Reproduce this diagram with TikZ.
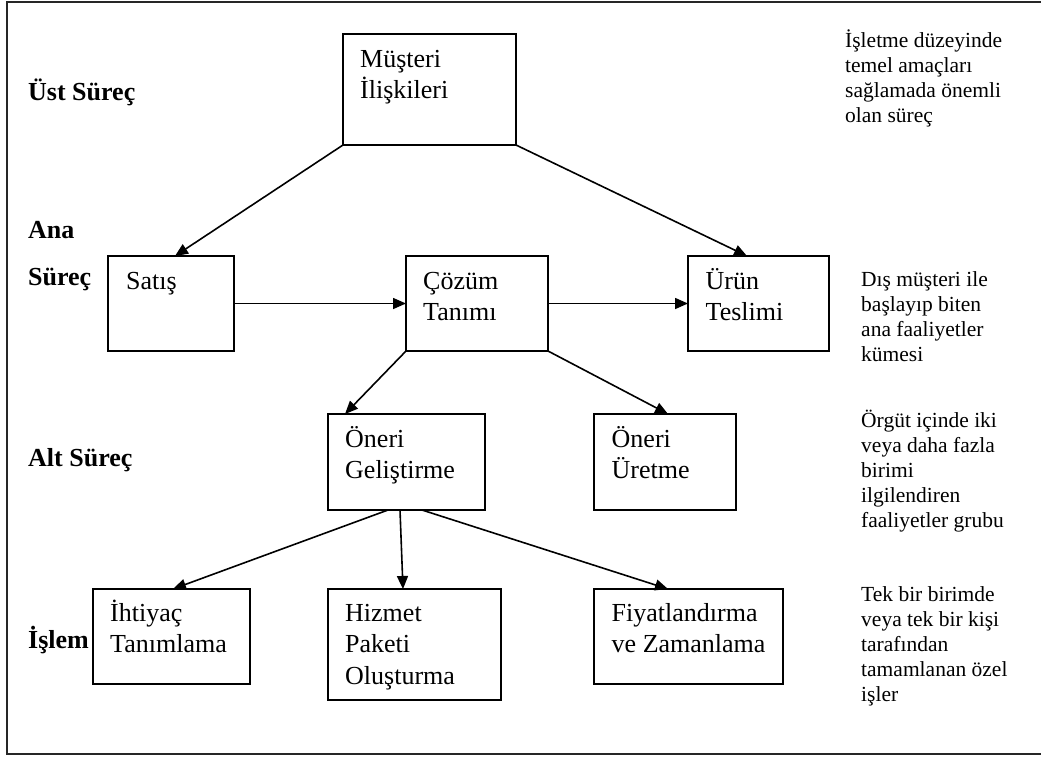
\documentclass[tikz,border=0pt]{standalone}
\usepackage{fontspec}
\setmainfont{Liberation Serif}
\usetikzlibrary{arrows.meta}

% stacked lines whose reference point is the baseline of the first line
\newcommand{\toplines}[1]{\begin{tabular}[t]{@{}l@{}}#1\end{tabular}}

\tikzset{
  procbox/.style={draw, line width=1.6pt, rectangle, anchor=north west,
                  inner sep=0pt, outer sep=0pt},
  boxtext/.style={anchor=base west, inner sep=0pt,
                  font=\fontsize{26}{31.5}\selectfont},
  leveltext/.style={anchor=base west, inner sep=0pt,
                  font=\fontsize{26}{31}\selectfont\bfseries},
  notetext/.style={anchor=base west, inner sep=0pt,
                  font=\fontsize{21.5}{25}\selectfont},
  link/.style={line width=1.6pt, -{Triangle[length=13pt,width=11pt]}}
}

\begin{document}
\begin{tikzpicture}[x=1pt,y=-1pt]
\useasboundingbox (0,0) rectangle (1041,756);

% outer frame (right side runs past the page edge)
\draw[line width=2pt, black!85] (1050,2) -- (7,2) -- (7,754) -- (1050,754);

% level names
\node[leveltext] (ust)  at (28,100) {Üst Süreç};
\node[leveltext] (ana1) at (28,238) {Ana};
\node[leveltext] (ana2) at (28,285) {Süreç};
\node[leveltext] (alt)  at (28,466) {Alt Süreç};
\node[leveltext] (islem) at (28,648) {İşlem};

% process boxes
\node[procbox, minimum width=173pt, minimum height=111pt] (mus)     at (343,34)  {};
\node[procbox, minimum width=126pt, minimum height=95pt]  (satis)   at (108,256) {};
\node[procbox, minimum width=142pt, minimum height=95pt]  (cozum)   at (406,256) {};
\node[procbox, minimum width=141pt, minimum height=95pt]  (urun)    at (688,256) {};
\node[procbox, minimum width=157pt, minimum height=96pt]  (gelis)   at (328,414) {};
\node[procbox, minimum width=142pt, minimum height=96pt]  (uretme)  at (594,414) {};
\node[procbox, minimum width=157pt, minimum height=95pt]  (ihtiyac) at (93,589)  {};
\node[procbox, minimum width=173pt, minimum height=111pt] (hizmet)  at (328,589) {};
\node[procbox, minimum width=189pt, minimum height=95pt]  (fiyat)   at (594,589) {};

% box captions
\node[boxtext] (musT)     at ([shift={(17,33)}]mus.north west)     {\toplines{Müşteri\\İlişkileri}};
\node[boxtext] (satisT)   at ([shift={(18,33)}]satis.north west)   {Satış};
\node[boxtext] (cozumT)   at ([shift={(17,33)}]cozum.north west)   {\toplines{Çözüm\\Tanımı}};
\node[boxtext] (urunT)    at ([shift={(17.5,33)}]urun.north west)  {\toplines{Ürün\\Teslimi}};
\node[boxtext] (gelisT)   at ([shift={(17,33)}]gelis.north west)   {\toplines{Öneri\\Geliştirme}};
\node[boxtext] (uretmeT)  at ([shift={(17.5,33)}]uretme.north west) {\toplines{Öneri\\Üretme}};
\node[boxtext] (ihtiyacT) at ([shift={(17,32)}]ihtiyac.north west) {\toplines{İhtiyaç\\Tanımlama}};
\node[boxtext] (hizmetT)  at ([shift={(17,32)}]hizmet.north west)  {\toplines{Hizmet\\Paketi\\Oluşturma}};
\node[boxtext] (fiyatT)   at ([shift={(17.5,32)}]fiyat.north west) {\toplines{Fiyatlandırma\\ve Zamanlama}};

% level descriptions
\node[notetext] (n1) at (845,47.5) {\toplines{İşletme düzeyinde\\temel amaçları\\sağlamada önemli\\olan süreç}};
\node[notetext] (n2) at (861,286)  {\toplines{Dış müşteri ile\\başlayıp biten\\ana faaliyetler\\kümesi}};
\node[notetext] (n3) at (861,427)  {\toplines{Örgüt içinde iki\\veya daha fazla\\birimi\\ilgilendiren\\faaliyetler grubu}};
\node[notetext] (n4) at (861,601)  {\toplines{Tek bir birimde\\veya tek bir kişi\\tarafından\\tamamlanan özel\\işler}};

% connectors
\draw[link] (mus.south west) -- ([xshift=4pt]satis.north);
\draw[link] (mus.south east) -- ([xshift=-11.5pt]urun.north);
\draw[link] (satis.east) -- (cozum.west);
\draw[link] (cozum.east) -- (urun.west);
\draw[link] (cozum.south west) -- ([xshift=17pt]gelis.north west);
\draw[link] (cozum.south east) -- ([xshift=3pt]uretme.north);
\draw[link] ([xshift=-18.5pt]gelis.south) -- ([xshift=1.5pt]ihtiyac.north);
\draw[link] ([xshift=-6.5pt]gelis.south) -- ([xshift=-11.5pt]hizmet.north);
\draw[link] ([xshift=15.5pt]gelis.south) -- ([xshift=-20.5pt]fiyat.north);
\end{tikzpicture}
\end{document}
